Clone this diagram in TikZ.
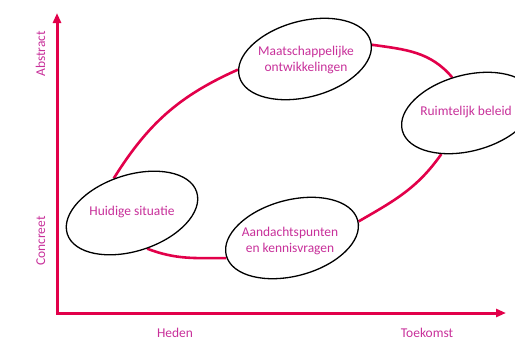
\documentclass[tikz,border=0pt]{standalone}
\usepackage{fontspec}
\setmainfont{Carlito}
\usetikzlibrary{arrows.meta,shapes,backgrounds,positioning}
\definecolor{ColorRed}{HTML}{E2004A}
\definecolor{ColorText}{HTML}{C8309A}

\begin{document}
\begin{tikzpicture}[x=1bp,y=1bp,
phase/.style={
	ellipse,
	draw=black,
	line width=1.3bp,
	fill=white,
	minimum width=136bp,
	minimum height=76bp,
	inner sep=0mm},
phasetext/.style={
	align=center,
	inner sep=0mm,
	font=\fontsize{13.5}{17}\selectfont,
	text=ColorText},
axisline/.style={
	<->,
	>={Triangle[length=10bp,width=8bp]},
	line width=3bp,
	line join=miter,
	color=ColorRed},
loopline/.style={
	draw,
	line width=2.6bp,
	color=ColorRed},
axislabel/.style={
	inner sep=0mm,
	anchor=base,
	font=\fontsize{13.5}{17}\selectfont,
	text=ColorText}]

\useasboundingbox (0,0) rectangle (515,340);

%Axes
\coordinate (origin) at (57,27);
\coordinate (ytip) at (57,327);
\coordinate (xtip) at (506,27);
\draw[axisline] (ytip) -- (origin) -- (xtip);

\node[axislabel, rotate=90] (abstract) at (45,286) {Abstract};
\node[axislabel, rotate=90] (concreet) at (45,99) {Concreet};
\node[axislabel] (heden) at (175,3) {Heden};
\node[axislabel] (toekomst) at (427,3) {Toekomst};

%Phases
\node[phase, rotate=18] (hs) at (132,127) {};
\node[phase, rotate=15] (mo) at (305,281) {};
\node[phase, rotate=15] (rb) at (468,227) {};
\node[phase, rotate=15] (ak) at (292,102) {};

\node[phasetext] (hstext) at (132,128) {Huidige situatie};
\node[phasetext] (motext) at (306,280) {Maatschappelijke\\ ontwikkelingen};
\node[phasetext] (rbtext) at (466,228) {Ruimtelijk beleid};
\node[phasetext] (aktext) at (290,99) {Aandachtspunten\\ en kennisvragen};

%Cycle
\begin{scope}[on background layer]
\path[loopline] (hs.100) to[out=58, in=204] (mo.174);
\path[loopline] (mo.-3) to[out=-8, in=130] (rb.99);
\path[loopline] (rb.222) to[out=235, in=30] (ak.-1);
\path[loopline] (ak.182) to[out=180, in=-21] (hs.-85);
\end{scope}
\end{tikzpicture}
\end{document}
